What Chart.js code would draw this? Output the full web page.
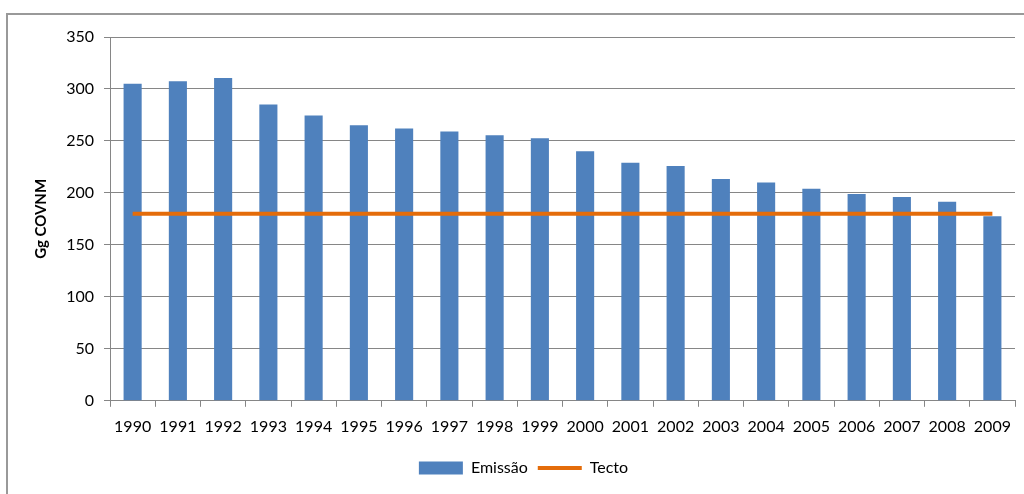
<!DOCTYPE html>
<html>
<head>
<meta charset="utf-8">
<script src="https://cdn.jsdelivr.net/npm/chart.js@4/dist/chart.umd.min.js"></script>
<style>
    html, body { margin: 0; padding: 0; background: #fff; overflow: hidden; }
    .frame {
        position: absolute; left: 6px; top: 13px; width: 1040px; height: 500px;
        border: 2px solid #999; box-sizing: border-box;
    }
    .wrap { position: absolute; left: 0; top: 0; width: 1024px; height: 494px; }
</style>
</head>
<body>
<div class="frame"></div>
<div class="wrap"><canvas id="chart" width="1024" height="494"></canvas></div>
<script>
// Emissões anuais de COVNM (Gg) e tecto
const years = ['1990', '1991', '1992', '1993', '1994', '1995', '1996', '1997', '1998', '1999',
    '2000', '2001', '2002', '2003', '2004', '2005', '2006', '2007', '2008', '2009'];
const emissao = [305, 307.5, 310.5, 285, 274.5, 265, 262, 259, 255.5, 252.5,
    240, 229, 226, 213.5, 210, 204, 199, 196, 191.5, 177.5];
const tecto = [180, 180, 180, 180, 180, 180, 180, 180, 180, 180,
    180, 180, 180, 180, 180, 180, 180, 180, 180, 180];

const gridColor = '#868686';
const fontFamily = 'Lato, "Liberation Sans", sans-serif';

Chart.defaults.font.family = fontFamily;
Chart.defaults.color = '#000';

new Chart(document.getElementById('chart').getContext('2d'), {
    type: 'bar',
    data: {
        labels: years,
        datasets: [{
            type: 'bar',
            label: 'Emissão',
            data: emissao,
            backgroundColor: '#4F81BD',
            borderWidth: 0,
            barPercentage: 0.4,
            categoryPercentage: 1,
            order: 2
        }, {
            type: 'line',
            label: 'Tecto',
            data: tecto,
            borderColor: '#E46C0A',
            backgroundColor: '#E46C0A',
            borderWidth: 4,
            pointRadius: 0,
            order: 1
        }]
    },
    options: {
        responsive: false,
        animation: false,
        layout: { padding: { left: 32, right: 9, top: 37, bottom: 8 } },
        plugins: {
            tooltip: { enabled: false },
            legend: {
                position: 'bottom',
                labels: {
                    usePointStyle: true,
                    pointStyleWidth: 44,
                    boxHeight: 13,
                    padding: 10,
                    font: { size: 16 },
                    generateLabels: function (chart) {
                        return chart.data.datasets.map((ds, i) => ({
                            text: ds.label,
                            datasetIndex: i,
                            fillStyle: ds.type === 'bar' ? ds.backgroundColor : 'transparent',
                            strokeStyle: ds.type === 'bar' ? ds.backgroundColor : ds.borderColor,
                            lineWidth: ds.type === 'bar' ? 0 : 4,
                            pointStyle: ds.type === 'bar' ? 'rect' : 'line',
                            fontColor: '#000'
                        }));
                    }
                }
            }
        },
        scales: {
            x: {
                grid: {
                    offset: true,
                    drawOnChartArea: false,
                    drawTicks: true,
                    tickLength: 6,
                    color: gridColor
                },
                border: { color: gridColor, width: 1 },
                ticks: { font: { size: 16 }, maxRotation: 0, autoSkip: false, padding: 10 },
                afterFit: function (scale) { scale.height += 4; }
            },
            y: {
                min: 0,
                max: 350,
                ticks: { stepSize: 50, font: { size: 16 }, padding: 10 },
                grid: { color: gridColor, tickLength: 6 },
                border: { color: gridColor, width: 1 },
                title: {
                    display: true,
                    text: 'Gg COVNM',
                    font: { size: 15, weight: 'bold' },
                    padding: { top: 0, bottom: 4 }
                },
                afterFit: function (scale) { scale.width = 78; }
            }
        }
    }
});
</script>
</body>
</html>
